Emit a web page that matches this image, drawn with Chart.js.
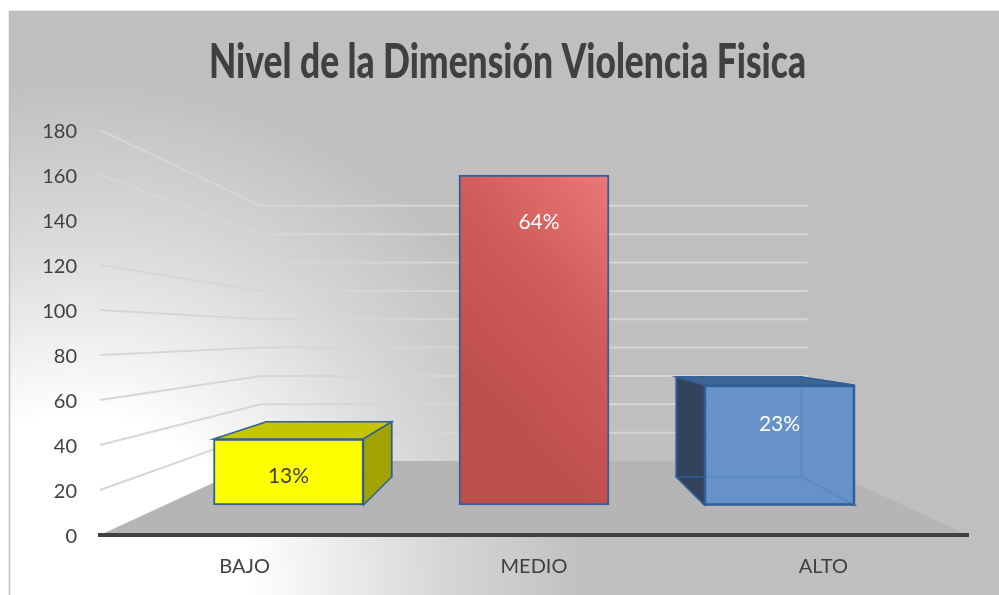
<!DOCTYPE html>
<html>
<head>
<meta charset="utf-8">
<title>Nivel de la Dimensión Violencia Fisica</title>
<script src="https://cdn.jsdelivr.net/npm/chart.js@4"></script>
<style>
    html, body { margin: 0; padding: 0; background: #fff; }
    #chart { display: block; }
</style>
</head>
<body>
<canvas id="chart" width="999" height="595"></canvas>
<script>
let chartTitle = "Nivel de la Dimensión Violencia Fisica";
let categories = ["BAJO", "MEDIO", "ALTO"];
let values = [32, 160, 58];
let percents = ["13%", "64%", "23%"];

let frontColors = ["#ffff00", "#c9524f", "rgba(93,141,203,0.9)"];
let topColors = ["#c4c400", "#b04745", "#3f6594"];
let sideColors = ["#a3a300", "#a03f3d", "#33435c"];
let percentColors = ["#404040", "#ffffff", "#ffffff"];
let percentDx = [0, 5, 0];
let percentDy = [37, 47, 39];

const EDGE = "#2f5f99";
const GRID = "#d6d6d6";
const VANISH_Y = 335;   // every depth line runs to this height, at mid axis
const BAR_DEPTH = 0.835;
const WALL_DEPTH = 0.63;

function project(chart, x, y, depth)
{
    let s = chart.scales.x;
    let vx = (s.left + s.right) / 2;
    return [vx + (x - vx) * depth, VANISH_Y + (y - VANISH_Y) * depth];
}

function poly(ctx, pts, fill, stroke)
{
    ctx.beginPath();
    ctx.moveTo(pts[0][0], pts[0][1]);
    for(let i = 1; i < pts.length; i++)
    {
        ctx.lineTo(pts[i][0], pts[i][1]);
    }
    ctx.closePath();
    if(fill) { ctx.fillStyle = fill; ctx.fill(); }
    if(stroke) { ctx.strokeStyle = stroke; ctx.lineWidth = 1.5; ctx.stroke(); }
}

let scene = {
    id: "scene",
    beforeDraw: function(chart)
    {
        let ctx = chart.ctx;
        let area = chart.chartArea;
        let yScale = chart.scales.y;

        // panel with the soft white glow at the lower left
        ctx.save();
        ctx.fillStyle = "#ffffff";
        ctx.fillRect(0, 0, chart.width, chart.height);
        let glow = ctx.createRadialGradient(80, 585, 0, 80, 585, 510);
        glow.addColorStop(0, "#ffffff");
        glow.addColorStop(0.33, "#ffffff");
        glow.addColorStop(0.7, "#d8d8d8");
        glow.addColorStop(1, "#bfbfbf");
        ctx.fillStyle = glow;
        ctx.fillRect(9, 11, chart.width - 9, chart.height - 11);
        ctx.strokeStyle = "#bdbdbd";
        ctx.lineWidth = 1.5;
        ctx.beginPath();
        ctx.moveTo(9.5, chart.height);
        ctx.lineTo(9.5, 11.5);
        ctx.lineTo(chart.width, 11.5);
        ctx.stroke();

        // side wall and back wall lines
        ctx.strokeStyle = GRID;
        ctx.lineWidth = 2;
        yScale.ticks.forEach(function(tick)
        {
            if(tick.value === 0) { return; }
            let y = yScale.getPixelForValue(tick.value);
            let a = project(chart, area.left, y, WALL_DEPTH);
            let b = project(chart, area.right, y, WALL_DEPTH);
            ctx.beginPath();
            ctx.moveTo(area.left, y);
            ctx.lineTo(a[0], a[1]);
            ctx.lineTo(b[0], b[1]);
            ctx.stroke();
        });

        // floor
        let y0 = yScale.getPixelForValue(0);
        poly(ctx, [
            [area.left, y0],
            [area.right, y0],
            project(chart, area.right, y0, WALL_DEPTH),
            project(chart, area.left, y0, WALL_DEPTH)
        ], "#b5b5b5");

        // title, squeezed sideways like the original
        ctx.font = "900 48px Lato";
        ctx.fillStyle = "#404040";
        ctx.textAlign = "left";
        ctx.textBaseline = "alphabetic";
        let squeeze = 597 / ctx.measureText(chartTitle).width;
        ctx.translate(209, 78);
        ctx.scale(squeeze, 1);
        ctx.fillText(chartTitle, 0, 0);
        ctx.restore();
    },
    beforeDatasetsDraw: function(chart)
    {
        // depth of each box, behind the bar the library draws
        let ctx = chart.ctx;
        let bars = chart.getDatasetMeta(0).data;
        let vx = (chart.scales.x.left + chart.scales.x.right) / 2;
        ctx.save();
        bars.forEach(function(bar, i)
        {
            let half = bar.width / 2;
            let l = bar.x - half, r = bar.x + half, t = bar.y, b = bar.base;
            let tl = project(chart, l, t, BAR_DEPTH), tr = project(chart, r, t, BAR_DEPTH);
            let bl = project(chart, l, b, BAR_DEPTH), br = project(chart, r, b, BAR_DEPTH);

            poly(ctx, [tl, tr, br, bl], null, EDGE);
            if(t > VANISH_Y)
            {
                poly(ctx, [[l, t], [r, t], tr, tl], topColors[i], EDGE);
            }
            if(r < vx)
            {
                poly(ctx, [[r, t], tr, br, [r, b]], sideColors[i], EDGE);
            }
            if(l > vx)
            {
                poly(ctx, [[l, t], tl, bl, [l, b]], sideColors[i], EDGE);
                poly(ctx, [[r, t], tr, br, [r, b]], null, EDGE);
                poly(ctx, [[l, b], [r, b], br, bl], null, EDGE);
            }
        });
        ctx.restore();
    },
    afterDatasetsDraw: function(chart)
    {
        let ctx = chart.ctx;
        let bars = chart.getDatasetMeta(0).data;
        ctx.save();
        ctx.font = "21px Lato";
        ctx.textAlign = "center";
        ctx.textBaseline = "middle";
        bars.forEach(function(bar, i)
        {
            ctx.fillStyle = percentColors[i];
            ctx.fillText(percents[i], bar.x + percentDx[i], bar.y + percentDy[i]);
        });
        ctx.restore();
    }
};

function barFill(context)
{
    let i = context.dataIndex;
    let chart = context.chart;
    if(i !== 1 || !chart.chartArea) { return frontColors[i]; }
    let xs = chart.scales.xBar, ys = chart.scales.yBar;
    let right = xs.getPixelForValue(i) + 74;
    let top = ys.getPixelForValue(values[i]);
    let grad = chart.ctx.createLinearGradient(right, top, right - 184, top + 166);
    grad.addColorStop(0, "#ec7875");
    grad.addColorStop(0.5, "#cf5b58");
    grad.addColorStop(1, "#bd4e4b");
    return grad;
}

let points = [];
for(let i = 0; i < categories.length; i++)
{
    points.push({ x: i, y: values[i] });
}

new Chart(document.getElementById("chart").getContext("2d"),
{
    type: "bar",
    plugins: [scene],
    data:
    {
        labels: categories,
        datasets: [
            {
                label: "Nivel",
                data: points,
                xAxisID: "xBar",
                yAxisID: "yBar",
                backgroundColor: barFill,
                borderColor: EDGE,
                borderWidth: 2,
                borderSkipped: false,
                barThickness: 150
            }
        ]
    },
    options:
    {
        responsive: false,
        animation: false,
        layout: { padding: { left: 0, right: 31, top: 130, bottom: 0 } },
        plugins:
        {
            legend: { display: false },
            tooltip: { enabled: false },
            title: { display: false }
        },
        scales:
        {
            x:
            {
                type: "category",
                offset: true,
                grid: { display: false },
                border: { display: true, color: "#404040", width: 4 },
                ticks: { color: "#404040", font: { family: "Lato", size: 20 }, padding: 12, maxRotation: 0 },
                afterFit: function(scale) { scale.height = 60; }
            },
            y:
            {
                type: "linear",
                min: 0,
                max: 180,
                grid: { display: false },
                border: { display: false },
                ticks: { stepSize: 20, color: "#404040", font: { family: "Lato", size: 20 }, padding: 15, labelOffset: 2 },
                afterFit: function(scale) { scale.width = 100; }
            },
            xBar: { type: "linear", display: false, offset: false, min: -0.768, max: 2.768 },
            yBar: { type: "linear", display: false, min: -14.55, max: 181.8 }
        }
    }
});
</script>
</body>
</html>
